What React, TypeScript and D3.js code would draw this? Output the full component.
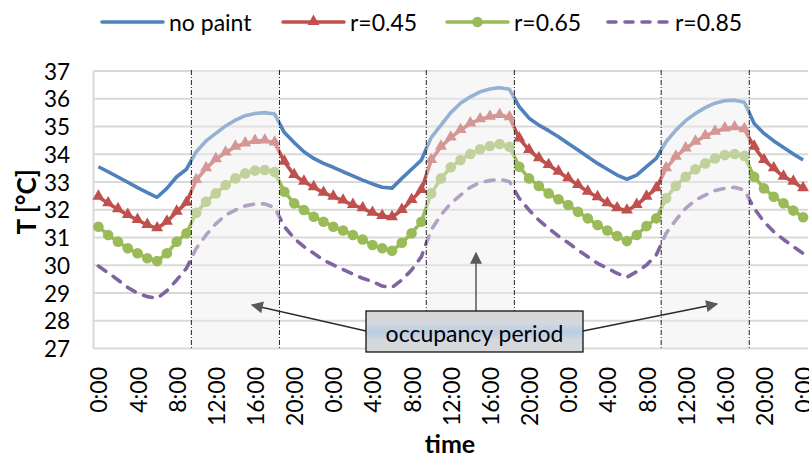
import React from 'react';
import * as d3 from 'd3';

// hourly values over three days (0:00 .. 0:00 of day 4)
const hours = d3.range(0, 73);
const tickHours = d3.range(0, 73, 4);
const tickLabels = tickHours.map(h => `${h % 24}:00`);
const yTicks = d3.range(27, 38);

const noPaint = [
  33.55, 33.37, 33.18, 32.99, 32.8, 32.62, 32.45, 32.77, 33.19, 33.46, 34.09, 34.48,
  34.75, 35.02, 35.23, 35.39, 35.47, 35.5, 35.45, 34.78, 34.42, 34.09, 33.85, 33.67,
  33.53, 33.37, 33.22, 33.07, 32.93, 32.81, 32.78, 33.13, 33.46, 33.79, 34.6, 35.05,
  35.5, 35.84, 36.07, 36.25, 36.35, 36.4, 36.34, 35.71, 35.3, 35.05, 34.85, 34.63,
  34.39, 34.15, 33.91, 33.67, 33.46, 33.25, 33.1, 33.25, 33.55, 33.85, 34.45, 34.87,
  35.21, 35.47, 35.68, 35.84, 35.93, 35.95, 35.87, 35.11, 34.75, 34.48, 34.24, 34.01,
  33.79,
];
const r045 = [
  32.47, 32.23, 32.02, 31.81, 31.63, 31.45, 31.33, 31.57, 31.93, 32.25, 33.07, 33.49,
  33.82, 34.06, 34.27, 34.39, 34.48, 34.49, 34.42, 33.73, 33.25, 33.01, 32.81, 32.61,
  32.47, 32.33, 32.17, 32.05, 31.89, 31.77, 31.73, 31.99, 32.35, 32.71, 33.79, 34.27,
  34.6, 34.87, 35.11, 35.26, 35.35, 35.41, 35.33, 34.57, 34.15, 33.85, 33.61, 33.37,
  33.13, 32.89, 32.65, 32.45, 32.23, 32.05, 31.97, 32.17, 32.47, 32.77, 33.49, 33.91,
  34.21, 34.45, 34.66, 34.81, 34.93, 34.97, 34.9, 34.27, 33.79, 33.49, 33.19, 33.01,
  32.77,
];
const r065 = [
  31.39, 31.09, 30.85, 30.61, 30.43, 30.25, 30.15, 30.43, 30.85, 31.15, 31.89, 32.29,
  32.59, 32.89, 33.13, 33.31, 33.41, 33.43, 33.36, 32.65, 32.23, 31.99, 31.75, 31.57,
  31.39, 31.25, 31.09, 30.93, 30.73, 30.61, 30.52, 30.81, 31.15, 31.57, 32.59, 33.13,
  33.53, 33.79, 34.01, 34.18, 34.3, 34.37, 34.27, 33.55, 33.13, 32.86, 32.59, 32.38,
  32.17, 31.93, 31.69, 31.45, 31.25, 31.05, 30.87, 31.09, 31.41, 31.69, 32.41, 32.86,
  33.19, 33.46, 33.67, 33.85, 33.97, 34.01, 33.94, 33.19, 32.77, 32.47, 32.23, 31.97,
  31.73,
];
const r085 = [
  29.97, 29.73, 29.47, 29.2, 28.99, 28.87, 28.81, 29.08, 29.47, 29.89, 30.61, 31.09,
  31.49, 31.81, 31.99, 32.14, 32.21, 32.21, 32.08, 31.39, 30.97, 30.67, 30.43, 30.19,
  30.01, 29.85, 29.68, 29.53, 29.41, 29.25, 29.2, 29.47, 29.83, 30.31, 31.27, 31.81,
  32.23, 32.53, 32.81, 32.98, 33.05, 33.1, 33.01, 32.41, 31.99, 31.63, 31.33, 31.05,
  30.81, 30.55, 30.31, 30.07, 29.89, 29.71, 29.57, 29.77, 30.01, 30.37, 31.15, 31.63,
  32.05, 32.35, 32.53, 32.69, 32.77, 32.81, 32.71, 32.05, 31.57, 31.21, 30.93, 30.67,
  30.43,
];
// occupied hours: boundaries between categories
const occStart = [9.5, 33.5, 57.5];
const occEnd = [18.5, 42.5, 66.5];

const FONT = 'Lato, "Open Sans", sans-serif';

const series = [
  { name: 'no paint', values: noPaint, color: '#4F81BD', marker: 'none', dash: '' },
  { name: 'r=0.45', values: r045, color: '#C0504D', marker: 'triangle', dash: '' },
  { name: 'r=0.65', values: r065, color: '#9BBB59', marker: 'circle', dash: '' },
  { name: 'r=0.85', values: r085, color: '#8064A2', marker: 'none', dash: '9,9' },
];

export default function App() {
  const width = 809;
  const height = 459;
  const left = 93.5, right = 808, top = 71, bottom = 348.5;

  const x = d3.scaleLinear().domain([-0.5, 72.5]).range([left, right]);
  const y = d3.scaleLinear().domain([27, 37]).range([bottom, top]);

  const line = d3.line<number>()
    .x((_, i) => x(hours[i]))
    .y(d => y(d));

  const tri = d3.symbol().type(d3.symbolTriangle).size(62)();

  const legendX = [102, 283, 447, 608];

  return (
    <svg width={width} height={height} style={{ position: 'absolute', left: 0, top: 0, background: '#fff' }}
      fontFamily={FONT}>
      <defs>
        <linearGradient id="boxfill" x1="0" y1="0" x2="0" y2="1">
          <stop offset="0%" stopColor="#d6d6d6" />
          <stop offset="30%" stopColor="#d4d8de" />
          <stop offset="52%" stopColor="#b9cde4" />
          <stop offset="72%" stopColor="#d4d8de" />
          <stop offset="100%" stopColor="#d6d6d6" />
        </linearGradient>
        <marker id="arrow" viewBox="0 0 10 10" refX="9" refY="5" markerWidth="14" markerHeight="12"
          markerUnits="userSpaceOnUse" orient="auto">
          <path d="M0,0 L10,5 L0,10 z" fill="#595959" />
        </marker>
      </defs>

      {/* grid */}
      {yTicks.map(t => (
        <line key={t} x1={left} x2={right} y1={y(t)} y2={y(t)} stroke="#d9d9d9" strokeWidth={2} />
      ))}
      <line x1={left} x2={left} y1={top} y2={bottom} stroke="#d9d9d9" strokeWidth={2} />

      {/* series */}
      {series.map(s => (
        <g key={s.name}>
          <path d={line(s.values) || ''} fill="none" stroke={s.color} strokeWidth={3.6}
            strokeLinejoin="round" strokeLinecap={s.dash ? 'round' : 'butt'}
            strokeDasharray={s.dash || undefined} />
          {s.marker === 'triangle' && s.values.map((v, i) => (
            <path key={i} d={tri || ''} transform={`translate(${x(hours[i])},${y(v) - 0.5})`} fill={s.color} />
          ))}
          {s.marker === 'circle' && s.values.map((v, i) => (
            <circle key={i} cx={x(hours[i])} cy={y(v)} r={5.3} fill={s.color} />
          ))}
        </g>
      ))}

      {/* occupancy shading */}
      {occStart.map((a, i) => (
        <rect key={i} x={x(a)} y={top - 1} width={x(occEnd[i]) - x(a)} height={bottom - top + 1}
          fill="#eeeeee" fillOpacity={0.45} />
      ))}
      {[...occStart, ...occEnd].map((a, i) => (
        <line key={i} x1={x(a)} x2={x(a)} y1={top - 1} y2={bottom + 1} stroke="#222" strokeWidth={1}
          strokeDasharray="5,2,1,2" />
      ))}

      {/* y axis labels */}
      {yTicks.map(t => (
        <text key={t} x={70} y={y(t)} textAnchor="end" dominantBaseline="central" fontSize={22.5} fill="#000">{t}</text>
      ))}
      <text transform={`translate(26,${(top + bottom) / 2 - 8}) rotate(-90)`} textAnchor="middle"
        dominantBaseline="central" fontSize={26} fontWeight="bold">T [°C]</text>

      {/* x axis labels */}
      {tickHours.map((h, i) => (
        <text key={h} transform={`translate(${x(h)},367) rotate(-90)`} textAnchor="end"
          dominantBaseline="central" fontSize={23}>{tickLabels[i]}</text>
      ))}
      <text x={450} y={453} textAnchor="middle" fontSize={25} fontWeight="bold">time</text>

      {/* annotation */}
      <line x1={366} y1={331} x2={252} y2={305} stroke="#2b2b2b" strokeWidth={1.5} markerEnd="url(#arrow)" />
      <line x1={476} y1={311} x2={476} y2={253} stroke="#595959" strokeWidth={1.5} markerEnd="url(#arrow)" />
      <line x1={583} y1={331} x2={717} y2={304} stroke="#2b2b2b" strokeWidth={1.5} markerEnd="url(#arrow)" />
      <rect x={366} y={311} width={217} height={41} fill="url(#boxfill)" stroke="#000" strokeWidth={1.2} />
      <text x={474.5} y={333} textAnchor="middle" dominantBaseline="central" fontSize={23}>occupancy period</text>

      {/* legend */}
      {series.map((s, i) => {
        const lx = legendX[i];
        return (
          <g key={s.name}>
            <line x1={lx} x2={lx + 61} y1={22} y2={22} stroke={s.color} strokeWidth={3.6}
              strokeLinecap="round" strokeDasharray={s.dash ? '8,9' : undefined} />
            {s.marker === 'triangle' && (
              <path d={tri || ''} transform={`translate(${lx + 30.5},21.5)`} fill={s.color} />
            )}
            {s.marker === 'circle' && <circle cx={lx + 30.5} cy={22} r={5.3} fill={s.color} />}
            <text x={lx + 67} y={22} dominantBaseline="central" fontSize={23}>{s.name}</text>
          </g>
        );
      })}
    </svg>
  );
}
